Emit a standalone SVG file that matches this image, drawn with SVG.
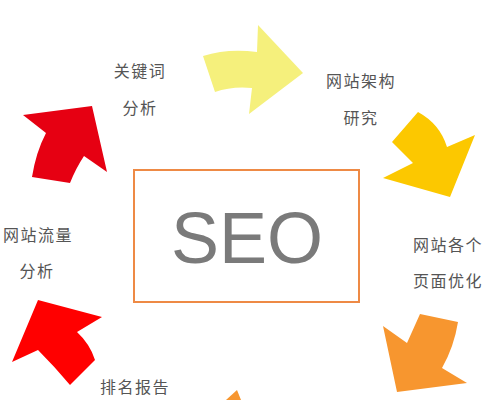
<svg xmlns="http://www.w3.org/2000/svg" width="496" height="400" viewBox="0 0 496 400">
<style>
.lbl{font-family:"Noto Sans CJK SC","Noto Sans",sans-serif;font-size:16px;fill:#555;text-anchor:middle;letter-spacing:1.5px}
.seo{font-family:"Liberation Sans",Arial,sans-serif;font-size:72px;fill:#7a7a7a;text-anchor:middle}
</style>
<rect width="496" height="400" fill="#fff"/>
<g id="connectors">
<path id="arrow-yellow" d="M203,56 Q228,48 257,52 L258,25 L303,73 L249,114 L252,88 Q232,86 215,92 Z" fill="#F5F07C"/>
<path id="arrow-gold" d="M418,112 Q440,124 447,147 L475,135 L450,197 L383,178 L413,163 Q400,150 392,142 Z" fill="#FCC800"/>
<path id="arrow-orange" d="M420,314 L458,322 Q454,347 442,368 L467,383 L397,392 L383,326 L407,343 Z" fill="#F7962F"/>
<path id="arrow-orange-partial" d="M237,390 L241,400 L226,400 Z" fill="#F7962F"/>
<path id="arrow-red-bottom" d="M38,300 L102,317 L77,332 Q90,344 95,360 L70,385 Q55,367 38,350 L12,362 Z" fill="#FF0000"/>
<path id="arrow-red-top" d="M23,115 L92,106 L107,172 L84,156 Q76,168 70,183 L32,177 Q36,152 46,133 Z" fill="#E60012"/>
</g>
<g id="seo">
<rect x="134" y="170" width="225" height="132" fill="#fff" stroke="#EE8A45" stroke-width="2"/>
<text class="seo" x="247" y="263">SEO</text>
</g>
<g id="keyword">
<text class="lbl" x="140" y="77">关键词</text>
<text class="lbl" x="140" y="114">分析</text>
</g>
<g id="architecture">
<text class="lbl" x="361" y="87">网站架构</text>
<text class="lbl" x="361" y="124">研究</text>
</g>
<g id="pages">
<text class="lbl" x="448" y="251">网站各个</text>
<text class="lbl" x="448" y="287">页面优化</text>
</g>
<g id="ranking">
<text class="lbl" x="135" y="393">排名报告</text>
</g>
<g id="traffic">
<text class="lbl" x="38" y="241">网站流量</text>
<text class="lbl" x="37" y="277">分析</text>
</g>
</svg>
